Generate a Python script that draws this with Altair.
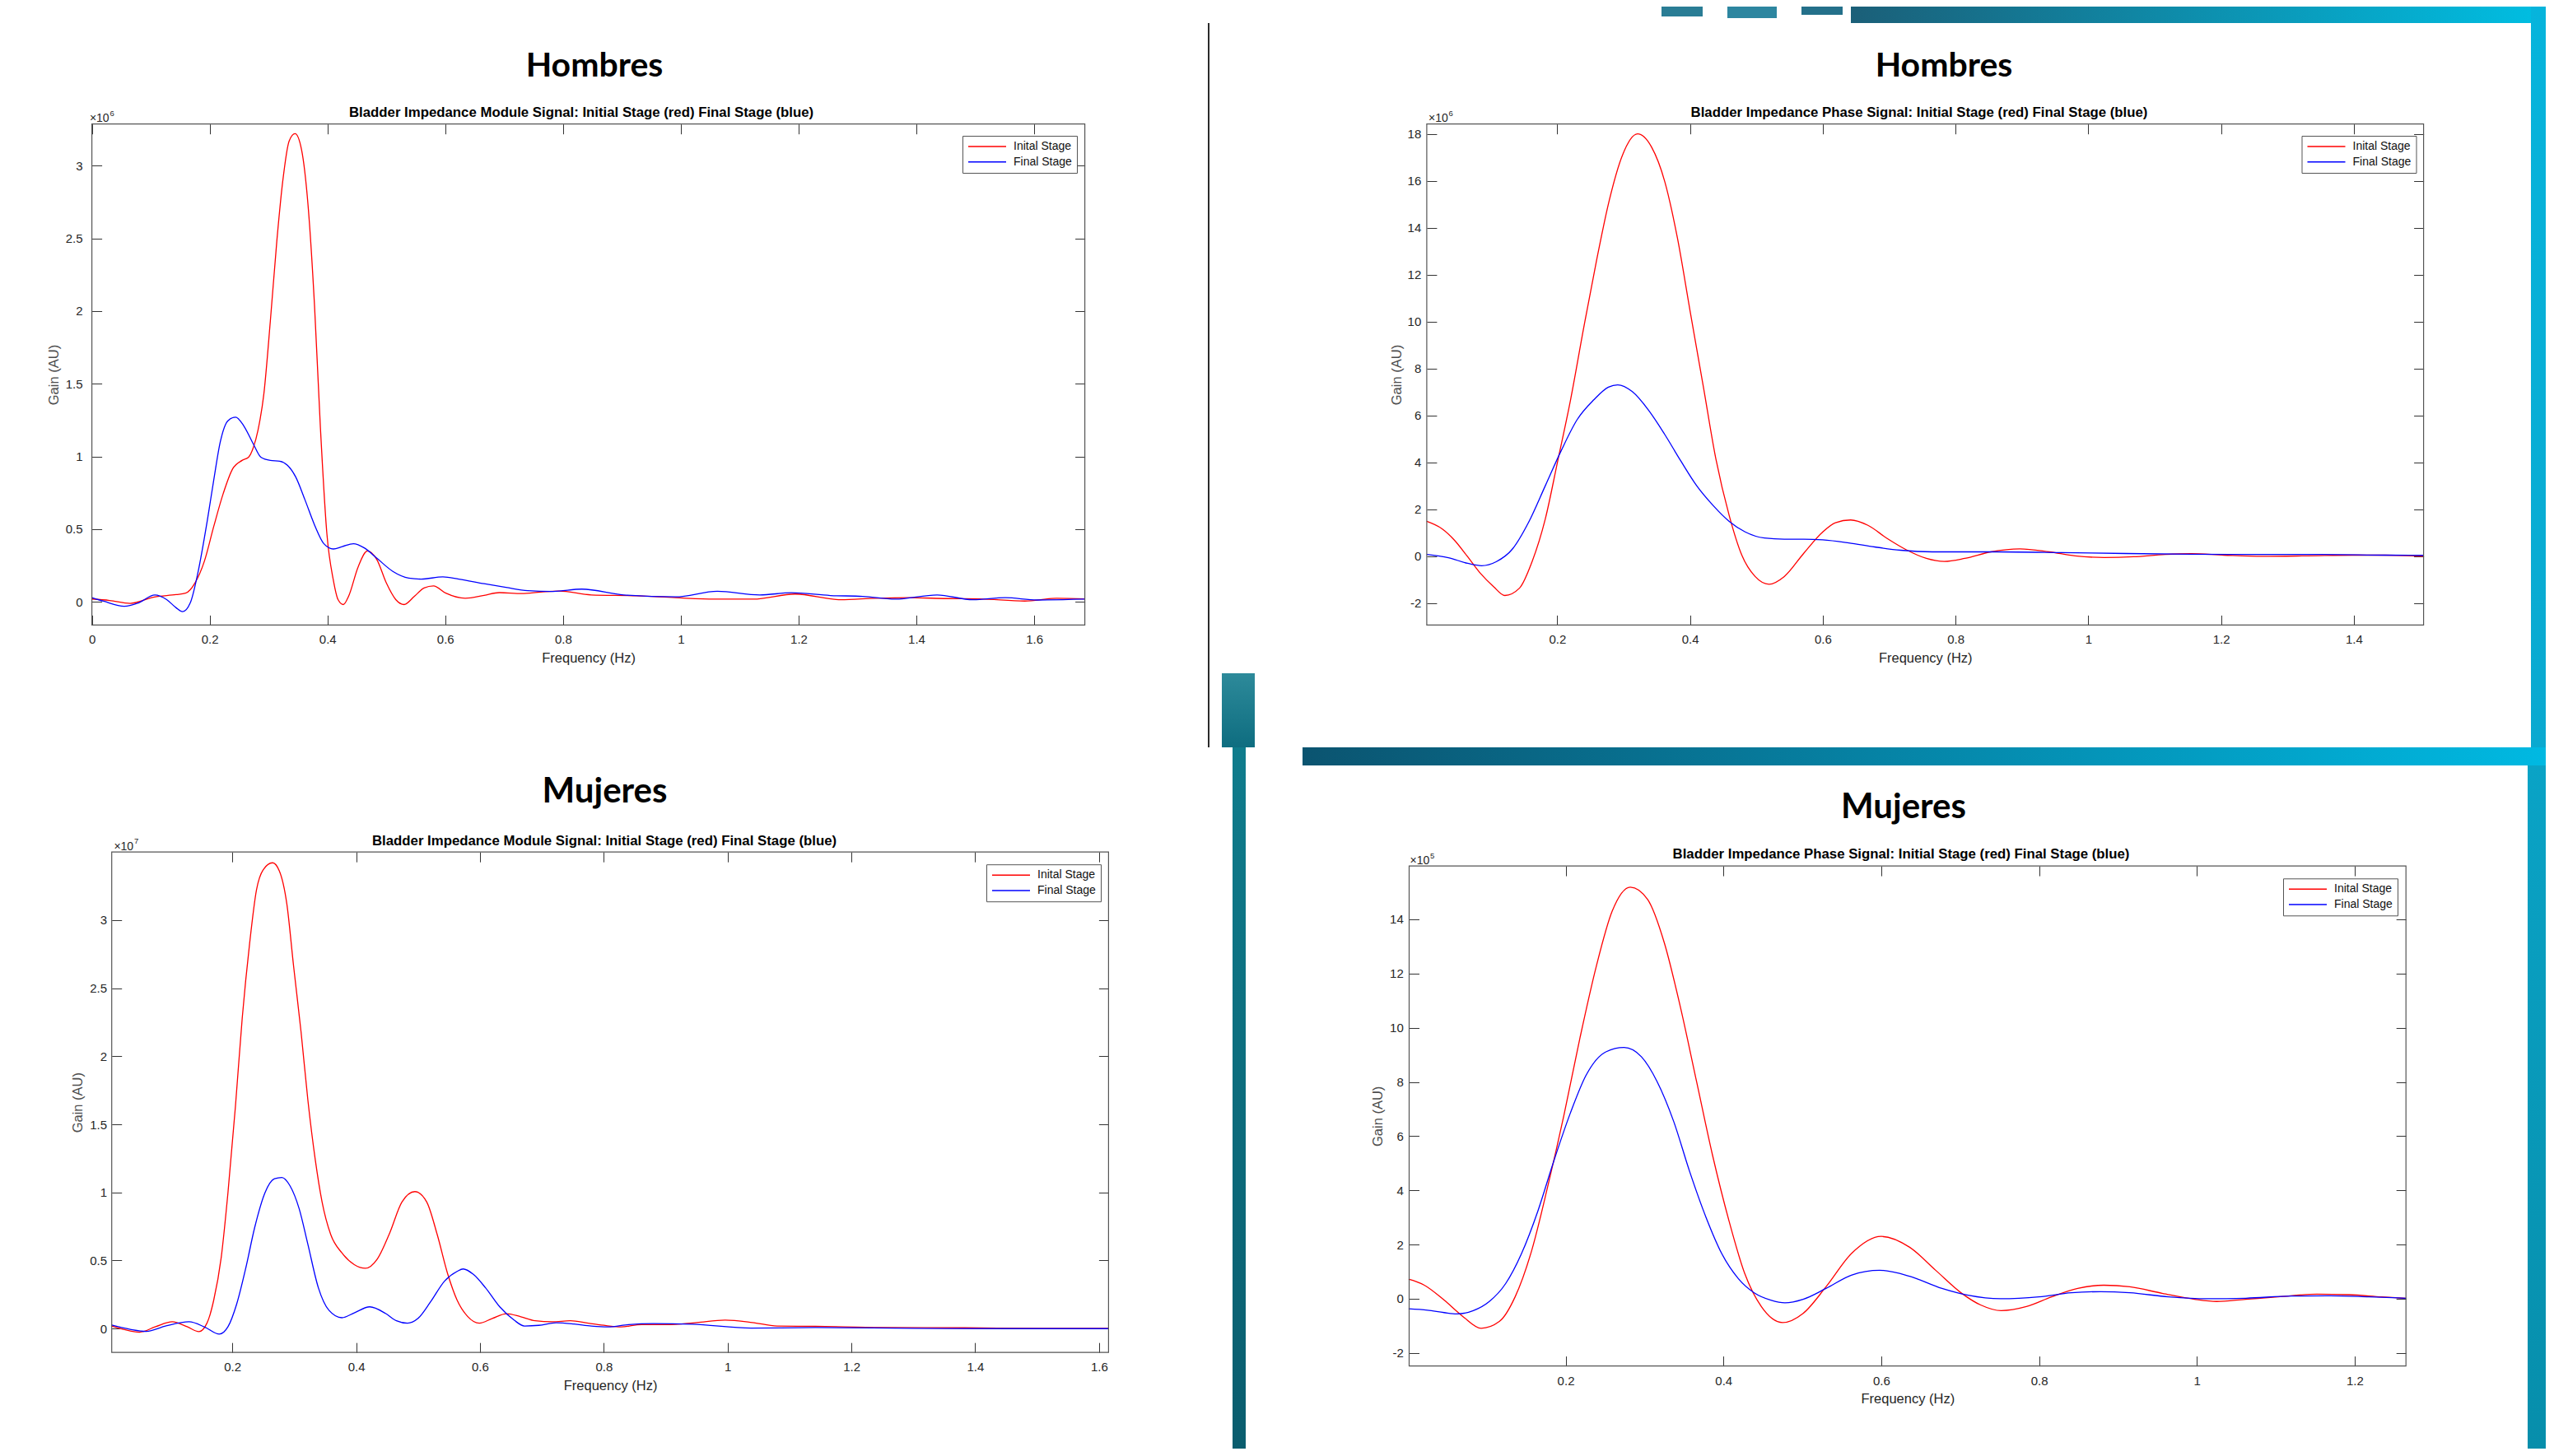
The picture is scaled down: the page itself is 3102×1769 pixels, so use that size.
import altair as alt
import pandas as pd

STAGES = ["Inital Stage", "Final Stage"]
COLORS = ["#ff0000", "#0000ff"]

# ---------------- Hombres - Module signal (gain x 10^6) ----------------
hm_freq_initial = [0, 0.03, 0.065, 0.106, 0.143, 0.159, 0.175, 0.191, 0.207, 0.223, 0.239, 0.255, 0.266,
                   0.274, 0.282, 0.292, 0.303, 0.314, 0.324, 0.335, 0.345, 0.356, 0.367, 0.378, 0.388, 0.399,
                   0.41, 0.418, 0.427, 0.436, 0.452, 0.468, 0.484, 0.5, 0.516, 0.53, 0.548, 0.564, 0.58, 0.601,
                   0.634, 0.666, 0.692, 0.73, 0.762, 0.793, 0.848, 0.925, 0.991, 1.057, 1.123, 1.194, 1.271,
                   1.331, 1.386, 1.452, 1.507, 1.584, 1.638, 1.686]
hm_gain_initial = [0.02, 0.01, -0.01, 0.034, 0.05, 0.06, 0.13, 0.28, 0.52, 0.745, 0.915, 0.973, 0.995,
                   1.06, 1.18, 1.43, 1.93, 2.48, 2.89, 3.17, 3.22, 3.11, 2.73, 2.04, 1.2, 0.47,
                   0.15, 0.016, -0.018, 0.04, 0.24, 0.35, 0.29, 0.13, 0.016, -0.018, 0.04, 0.096, 0.11, 0.06,
                   0.025, 0.045, 0.064, 0.058, 0.068, 0.075, 0.048, 0.042, 0.029, 0.019, 0.019, 0.054, 0.015,
                   0.025, 0.029, 0.023, 0.021, 0.006, 0.025, 0.021]
hm_freq_final = [0, 0.02, 0.055, 0.079, 0.107, 0.127, 0.143, 0.154, 0.167, 0.18, 0.196, 0.207, 0.218, 0.231,
                 0.244, 0.258, 0.274, 0.287, 0.303, 0.319, 0.332, 0.346, 0.362, 0.378, 0.394, 0.41, 0.425,
                 0.444, 0.463, 0.484, 0.511, 0.538, 0.559, 0.596, 0.623, 0.666, 0.703, 0.74, 0.783, 0.832,
                 0.903, 0.991, 1.062, 1.134, 1.188, 1.254, 1.309, 1.364, 1.435, 1.496, 1.551, 1.605, 1.686]
hm_gain_final = [0.03, 0.005, -0.03, -0.007, 0.048, 0.016, -0.04, -0.067, -0.007, 0.2, 0.56, 0.84, 1.1, 1.246,
                 1.27, 1.21, 1.087, 0.995, 0.973, 0.968, 0.94, 0.86, 0.7, 0.53, 0.4, 0.364, 0.38,
                 0.4, 0.37, 0.3, 0.21, 0.164, 0.157, 0.172, 0.157, 0.125, 0.1, 0.077, 0.072, 0.088,
                 0.048, 0.035, 0.073, 0.048, 0.063, 0.044, 0.038, 0.019, 0.048, 0.015, 0.029, 0.013, 0.019]
hm_x_ticks = [0, 0.2, 0.4, 0.6, 0.8, 1, 1.2, 1.4, 1.6]
hm_y_ticks = [0, 0.5, 1, 1.5, 2, 2.5, 3]

# ---------------- Hombres - Phase signal (gain x 10^6) ----------------
hp_freq_initial = [0.0034, 0.026, 0.045, 0.065, 0.084, 0.104, 0.121, 0.143, 0.162, 0.182, 0.201, 0.22, 0.24,
                   0.259, 0.279, 0.298, 0.321, 0.342, 0.362, 0.381, 0.4, 0.42, 0.439, 0.459, 0.478, 0.498,
                   0.519, 0.542, 0.571, 0.6, 0.619, 0.642, 0.668, 0.697, 0.727, 0.756, 0.783, 0.814, 0.853,
                   0.897, 0.941, 0.98, 1.024, 1.068, 1.116, 1.155, 1.204, 1.262, 1.33, 1.398, 1.447, 1.505]
hp_gain_initial = [1.48, 1.17, 0.68, -0.03, -0.73, -1.3, -1.68, -1.37, -0.24, 1.59, 4.1, 6.66, 9.76,
                   12.58, 15.25, 17.08, 18.0, 17.44, 15.96, 13.56, 10.46, 7.23, 4.13, 1.73, 0.04, -0.87,
                   -1.2, -0.87, 0.11, 1.03, 1.42, 1.54, 1.31, 0.75, 0.25, -0.1, -0.23, -0.1, 0.18,
                   0.31, 0.18, 0.01, -0.06, -0.03, 0.07, 0.1, 0.04, -0.01, 0.01, 0.04, 0.04, -0.01]
hp_freq_final = [0.0034, 0.036, 0.065, 0.086, 0.108, 0.133, 0.157, 0.182, 0.206, 0.23, 0.255, 0.277, 0.291,
                 0.313, 0.337, 0.362, 0.386, 0.41, 0.435, 0.459, 0.483, 0.512, 0.542, 0.571, 0.6, 0.639,
                 0.678, 0.717, 0.765, 0.863, 0.96, 1.057, 1.155, 1.252, 1.349, 1.447, 1.505]
hp_gain_final = [0.07, -0.07, -0.31, -0.41, -0.24, 0.32, 1.45, 3.0, 4.5, 5.82, 6.66, 7.2, 7.3,
                 7.01, 6.24, 5.18, 4.06, 3.0, 2.15, 1.48, 1.03, 0.77, 0.72, 0.72, 0.69, 0.56,
                 0.39, 0.25, 0.18, 0.18, 0.15, 0.11, 0.08, 0.07, 0.07, 0.04, 0.03]
hp_x_ticks = [0.2, 0.4, 0.6, 0.8, 1, 1.2, 1.4]
hp_y_ticks = [-2, 0, 2, 4, 6, 8, 10, 12, 14, 16, 18]

# ---------------- Mujeres - Module signal (gain x 10^7) ----------------
mm_freq_initial = [0.005, 0.024, 0.05, 0.076, 0.103, 0.127, 0.146, 0.159, 0.17, 0.182, 0.193, 0.205, 0.216,
                   0.228, 0.239, 0.25, 0.265, 0.276, 0.288, 0.299, 0.311, 0.322, 0.334, 0.345, 0.359, 0.377,
                   0.397, 0.415, 0.434, 0.454, 0.474, 0.495, 0.514, 0.531, 0.548, 0.563, 0.58, 0.599, 0.62,
                   0.643, 0.666, 0.689, 0.717, 0.746, 0.775, 0.804, 0.828, 0.861, 0.902, 0.95, 0.996, 1.04,
                   1.08, 1.142, 1.247, 1.383, 1.509, 1.615]
mm_gain_initial = [0.019, -0.005, -0.026, 0.014, 0.05, 0.014, -0.022, 0.04, 0.21, 0.52, 1.0, 1.63, 2.28,
                   2.83, 3.22, 3.37, 3.42, 3.36, 3.12, 2.66, 2.18, 1.68, 1.24, 0.93, 0.69, 0.556,
                   0.47, 0.443, 0.51, 0.7, 0.93, 1.006, 0.93, 0.69, 0.4, 0.21, 0.09, 0.04, 0.075,
                   0.11, 0.087, 0.058, 0.05, 0.058, 0.04, 0.022, 0.0125, 0.03, 0.029, 0.045, 0.0625, 0.045,
                   0.019, 0.017, 0.008, 0.006, 0.002, 0.002]
mm_freq_final = [0.005, 0.035, 0.061, 0.093, 0.13, 0.156, 0.179, 0.193, 0.207, 0.222, 0.236, 0.253, 0.268,
                 0.28, 0.293, 0.308, 0.322, 0.339, 0.356, 0.377, 0.397, 0.422, 0.448, 0.465, 0.483, 0.5,
                 0.52, 0.543, 0.563, 0.573, 0.589, 0.609, 0.632, 0.655, 0.672, 0.695, 0.723, 0.752, 0.78,
                 0.807, 0.84, 0.88, 0.943, 1.038, 1.142, 1.3, 1.456, 1.615]
mm_gain_final = [0.026, -0.005, -0.02, 0.02, 0.05, 0.01, -0.04, 0.014, 0.18, 0.45, 0.74, 1.0, 1.1,
                 1.11, 1.05, 0.88, 0.62, 0.3, 0.135, 0.08, 0.116, 0.16, 0.11, 0.058, 0.04, 0.075,
                 0.195, 0.35, 0.42, 0.438, 0.4, 0.3, 0.16, 0.063, 0.019, 0.024, 0.043, 0.034, 0.019,
                 0.0125, 0.03, 0.0375, 0.033, 0.004, 0.008, 0.002, 0.0, 0.0]
mm_x_ticks = [0.2, 0.4, 0.6, 0.8, 1, 1.2, 1.4, 1.6]
mm_y_ticks = [0, 0.5, 1, 1.5, 2, 2.5, 3]

# ---------------- Mujeres - Phase signal (gain x 10^5) ----------------
mp_freq_initial = [0.001, 0.021, 0.046, 0.07, 0.093, 0.116, 0.136, 0.157, 0.177, 0.198, 0.218, 0.239, 0.259,
                   0.282, 0.304, 0.325, 0.345, 0.366, 0.386, 0.407, 0.427, 0.448, 0.475, 0.501, 0.53, 0.562,
                   0.6, 0.636, 0.669, 0.702, 0.726, 0.752, 0.784, 0.816, 0.849, 0.882, 0.915, 0.956, 0.997,
                   1.025, 1.062, 1.103, 1.152, 1.193, 1.234, 1.265]
mp_gain_initial = [0.72, 0.5, -0.05, -0.66, -1.09, -0.84, 0.07, 1.78, 4.1, 6.79, 9.6, 12.28, 14.3,
                   15.19, 14.73, 13.14, 10.82, 8.01, 5.32, 2.88, 0.93, -0.29, -0.88, -0.54, 0.44, 1.66,
                   2.3, 1.9, 1.05, 0.2, -0.23, -0.44, -0.29, 0.07, 0.38, 0.5, 0.44, 0.2, -0.02,
                   -0.1, -0.02, 0.07, 0.17, 0.15, 0.07, 0.02]
mp_freq_final = [0.001, 0.025, 0.046, 0.062, 0.083, 0.103, 0.124, 0.144, 0.165, 0.185, 0.206, 0.226, 0.251,
                 0.274, 0.296, 0.316, 0.337, 0.357, 0.378, 0.398, 0.419, 0.439, 0.46, 0.478, 0.501, 0.53,
                 0.562, 0.598, 0.636, 0.677, 0.71, 0.751, 0.8, 0.841, 0.878, 0.915, 0.964, 1.013, 1.062,
                 1.12, 1.169, 1.218, 1.265]
mp_gain_final = [-0.37, -0.42, -0.51, -0.56, -0.44, -0.11, 0.56, 1.66, 3.25, 5.08, 6.85, 8.25, 9.11,
                 9.27, 8.93, 8.01, 6.54, 4.71, 3.0, 1.66, 0.74, 0.22, -0.05, -0.15, -0.02, 0.38,
                 0.87, 1.05, 0.83, 0.38, 0.13, 0.0, 0.07, 0.22, 0.26, 0.22, 0.07, 0.0, 0.02,
                 0.1, 0.11, 0.07, 0.02]
mp_x_ticks = [0.2, 0.4, 0.6, 0.8, 1, 1.2]
mp_y_ticks = [-2, 0, 2, 4, 6, 8, 10, 12, 14]

TITLE_MODULE = "Bladder Impedance Module Signal: Initial Stage (red) Final Stage (blue)"
TITLE_PHASE = "Bladder Impedance Phase Signal: Initial Stage (red) Final Stage (blue)"

FONT = "Liberation Sans, Arial, Helvetica, sans-serif"
HEAD_FONT = "Lato, Carlito, Calibri, sans-serif"
INK = "#262626"
VW, VH = 3084, 1752


def long_df(fi, gi, ff, gf):
    return pd.DataFrame({
        "freq": list(fi) + list(ff),
        "gain": list(gi) + list(gf),
        "stage": [STAGES[0]] * len(fi) + [STAGES[1]] * len(ff),
    })


def text(t, x, y, size, font=FONT, weight="normal", color="black", align="center"):
    return alt.Chart(alt.Data(values=[{"t": t}])).mark_text(
        font=font, fontSize=size, fontWeight=weight, color=color, align=align, baseline="alphabetic"
    ).encode(x=alt.value(x), y=alt.value(y), text="t:N")


def gradient(c0, c1, horizontal=True):
    return alt.LinearGradient(
        gradient="linear",
        stops=[alt.GradientStop(offset=0, color=c0), alt.GradientStop(offset=1, color=c1)],
        x1=0, y1=0, x2=1 if horizontal else 0, y2=0 if horizontal else 1,
    )


def deco(x, x2, y, y2, fill):
    """Slide background decoration (not data)."""
    return alt.Chart(alt.Data(values=[{"d": 1}])).mark_rect(fill=fill, strokeWidth=0).encode(
        x=alt.value(x), x2=alt.value(x2), y=alt.value(y), y2=alt.value(y2)
    )


def panel(df, box, xdom, ydom, xticks, yticks, ylabpad, ytitpad, leg_xy):
    L, R, T, B = box
    xs = alt.Scale(domain=xdom, range=[L, R], nice=False, zero=False)
    ys = alt.Scale(domain=ydom, range=[B, T], nice=False, zero=False)
    common = dict(domain=False, grid=False, tickSize=12, tickColor="#333333", tickWidth=1,
                  labelFlush=False, minExtent=0, maxExtent=0)
    x_bottom = alt.Axis(orient="bottom", offset=B - 12 - VH, values=xticks, title="Frequency (Hz)",
                        labelExpr="datum.value + ''", labelFont=FONT, labelFontSize=15,
                        labelColor=INK, labelPadding=10.5, titleFont=FONT, titleFontSize=16.5,
                        titleFontWeight="normal", titleColor=INK, titlePadding=44, **common)
    y_left = alt.Axis(orient="left", offset=-(L + 12), values=yticks, title="Gain (AU)",
                      labelExpr="datum.value + ''", labelFont=FONT, labelFontSize=15,
                      labelColor=INK, labelPadding=ylabpad, titleFont=FONT, titleFontSize=16.5,
                      titleFontWeight="normal", titleColor="#4d4d4d", titlePadding=ytitpad, **common)
    x_top = alt.Axis(orient="top", offset=-(T + 12), values=xticks, labels=False, title=None, **common)
    y_right = alt.Axis(orient="right", offset=R - 12 - VW, values=yticks, labels=False, title=None,
                       **common)

    legend = alt.Legend(title=None, orient="none", legendX=leg_xy[0], legendY=leg_xy[1],
                        symbolType="stroke", symbolSize=2116, symbolStrokeWidth=1.5, clipHeight=14,
                        labelFont=FONT, labelFontSize=14, labelColor="#111111", labelOffset=8,
                        padding=6, rowPadding=4.7, fillColor="white", strokeColor="#555555",
                        cornerRadius=0)
    lines = alt.Chart(df).mark_line(strokeWidth=1.3, interpolate="monotone").encode(
        x=alt.X("freq:Q", scale=xs, axis=x_bottom),
        y=alt.Y("gain:Q", scale=ys, axis=y_left),
        color=alt.Color("stage:N", scale=alt.Scale(domain=STAGES, range=COLORS), legend=legend),
    )
    frame = alt.Chart(alt.Data(values=[{"f": 1}])).mark_rect(
        fillOpacity=0, stroke="#555555", strokeWidth=1.2
    ).encode(
        x=alt.XDatum(xdom[0], type="quantitative", scale=xs, axis=x_top),
        x2=alt.X2Datum(xdom[1]),
        y=alt.YDatum(ydom[0], type="quantitative", scale=ys, axis=y_right),
        y2=alt.Y2Datum(ydom[1]),
    )
    return alt.layer(lines, frame).resolve_axis(x="independent", y="independent")


# plot boxes (left, right, top, bottom) in view pixels
tl = panel(long_df(hm_freq_initial, hm_gain_initial, hm_freq_final, hm_gain_final),
           (103.6, 1309.6, 142.7, 751.4), [0, 1.686], [-0.159, 3.286], hm_x_ticks, hm_y_ticks,
           11.6, 50.4, (1161, 157))
tr = panel(long_df(hp_freq_initial, hp_gain_initial, hp_freq_final, hp_gain_final),
           (1724.9, 2935.6, 142.7, 751.4), [0.0034, 1.505], [-2.94, 18.42], hp_x_ticks, hp_y_ticks,
           7.1, 40.6, (2787.5, 157))
bl = panel(long_df(mm_freq_initial, mm_gain_initial, mm_freq_final, mm_gain_final),
           (127.7, 1338.4, 1027.2, 1635.2), [0.0052, 1.6154], [-0.175, 3.499], mm_x_ticks, mm_y_ticks,
           6.2, 45, (1190, 1042.2))
br = panel(long_df(mp_freq_initial, mp_gain_initial, mp_freq_final, mp_gain_final),
           (1703.5, 2914.2, 1044.1, 1651.6), [0.0017, 1.265], [-2.48, 15.97], mp_x_ticks, mp_y_ticks,
           7.2, 41.6, (2765, 1059.3))

# slide background pieces visible in the screenshot
decorations = [
    deco(2240, 3086, 0, 20, gradient("#1b5f78", "#00bfe3")),
    deco(2010, 2060, 0, 12, "#2a7d95"),
    deco(2090, 2150, 0, 14, "#2d86a0"),
    deco(2180, 2230, 0, 10, "#24708a"),
    deco(3066, 3086, 0, 900, gradient("#06b4dc", "#0aa9d0", horizontal=False)),
    deco(1574, 3086, 900, 922, gradient("#0b5470", "#00b9e2")),
    deco(3062, 3086, 922, 1752, gradient("#0aa3c6", "#078eab", horizontal=False)),
    deco(1459, 1461, 20, 900, "#2b2b2b"),
    deco(1476, 1516, 810, 900, gradient("#2d8a9a", "#0e6d80", horizontal=False)),
    deco(1489, 1505, 900, 1752, gradient("#0f7c8c", "#0a5d6e", horizontal=False)),
]

texts = [
    text("Hombres", 714, 84.6, 41, font=HEAD_FONT, weight="bold"),
    text(TITLE_MODULE, 698, 134, 16.8, weight="bold"),
    text("\u00d710", 100.9, 140, 14, color=INK, align="left"),
    text("6", 125.4, 132.7, 9.5, color=INK, align="left"),

    text("Hombres", 2353, 84.5, 41, font=HEAD_FONT, weight="bold"),
    text(TITLE_PHASE, 2323, 134, 16.8, weight="bold"),
    text("\u00d710", 1727, 140, 14, color=INK, align="left"),
    text("6", 1751.5, 132.7, 9.5, color=INK, align="left"),

    text("Mujeres", 726.5, 967.2, 42, font=HEAD_FONT, weight="bold"),
    text(TITLE_MODULE, 726, 1019.1, 16.8, weight="bold"),
    text("\u00d710", 130.4, 1024.5, 14, color=INK, align="left"),
    text("7", 154.9, 1017.2, 9.5, color=INK, align="left"),

    text("Mujeres", 2304, 986.2, 42, font=HEAD_FONT, weight="bold"),
    text(TITLE_PHASE, 2301, 1035.4, 16.8, weight="bold"),
    text("\u00d710", 1704.5, 1041.8, 14, color=INK, align="left"),
    text("5", 1729, 1034.5, 9.5, color=INK, align="left"),
]

chart = alt.layer(*decorations, tl, tr, bl, br, *texts).resolve_scale(
    x="independent", y="independent", color="independent"
).resolve_axis(x="independent", y="independent").resolve_legend(color="independent").properties(
    width=VW, height=VH, padding=0, autosize=alt.AutoSizeParams(type="none"), background="white"
).configure_view(stroke="transparent")

chart.save("out.html", embed_options={"renderer": "svg", "actions": False})
